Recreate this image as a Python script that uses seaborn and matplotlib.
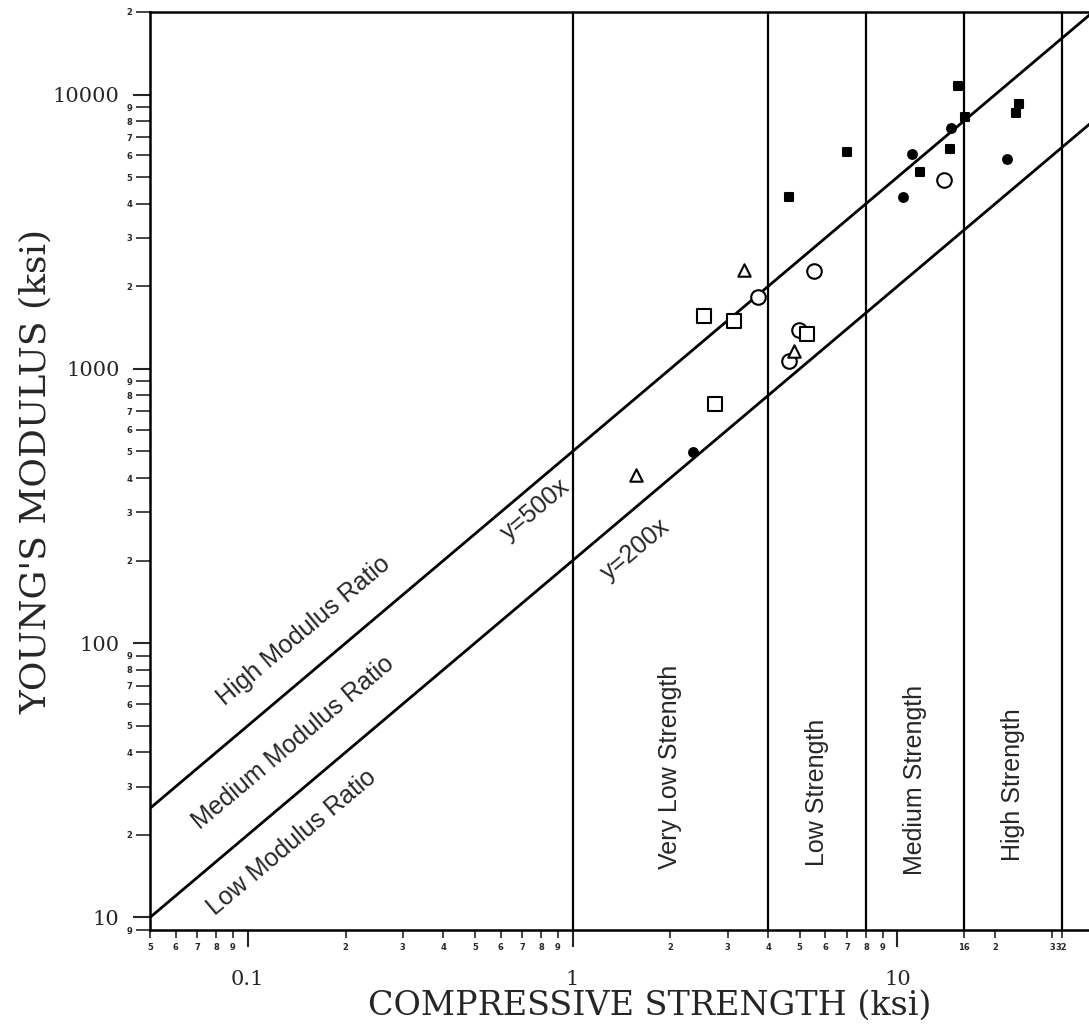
import numpy as np
import pandas as pd
import matplotlib
matplotlib.use("Agg")
import matplotlib.pyplot as plt
import seaborn as sns
from matplotlib.ticker import FixedLocator, FixedFormatter

sns.set_style("ticks")
plt.rcParams['font.family'] = ['DejaVu Serif']

# strength class boundaries (ksi) and names
class_bounds = [1, 4, 8, 16, 32]
class_names = ["Very Low Strength", "Low Strength", "Medium Strength", "High Strength"]

# modulus ratio lines  y = ratio * x
ratios = [500, 200]
ratio_x = [0.05, 40]

# measured points (compressive strength ksi, Young's modulus ksi)
filled_sq_x = [7.0, 4.62, 15.4, 16.1, 14.5, 11.7, 23.6, 23.2]
filled_sq_y = [6150, 4240, 10770, 8280, 6350, 5210, 9210, 8550]

filled_ci_x = [14.6, 11.1, 10.4, 21.8, 2.34]
filled_ci_y = [7550, 6090, 4240, 5800, 498]

open_ci_x = [5.55, 3.71, 4.96, 4.62, 13.95]
open_ci_y = [2280, 1827, 1390, 1066, 4880]

open_sq_x = [2.53, 3.13, 2.75, 5.25]
open_sq_y = [1560, 1500, 743, 1335]

open_tri_x = [3.38, 4.79, 1.57]
open_tri_y = [2300, 1160, 410]

fig = plt.figure(figsize=(10.89, 10.35), dpi=100)
ax = fig.add_axes([150 / 1089, 105 / 1035, (1093 - 150) / 1089, (930 - 12) / 1035])

# ratio lines
for r in ratios:
    df_line = pd.DataFrame({"x": ratio_x, "y": [r * v for v in ratio_x]})
    sns.lineplot(data=df_line, x="x", y="y", color="black", lw=2, ax=ax)

# strength class boundaries
for b in class_bounds:
    ax.axvline(b, color="black", lw=1.6)

# points
groups = [
    (filled_sq_x, filled_sq_y, "s", "black", 40),
    (filled_ci_x, filled_ci_y, "o", "black", 40),
    (open_ci_x, open_ci_y, "o", "white", 110),
    (open_sq_x, open_sq_y, "s", "white", 90),
    (open_tri_x, open_tri_y, "^", "white", 80),
]
for gx, gy, mk, fc, sz in groups:
    df_pts = pd.DataFrame({"x": gx, "y": gy})
    sns.scatterplot(data=df_pts, x="x", y="y", marker=mk, s=sz, color=fc,
                    edgecolor="black", linewidth=1.5, ax=ax, zorder=5)

ax.set_xscale("log")
ax.set_yscale("log")
ax.set_xlim(0.05, 40)
ax.set_ylim(9, 20000)

# ticks
ax.xaxis.set_major_locator(FixedLocator([0.1, 1, 10]))
ax.xaxis.set_major_formatter(FixedFormatter(["0.1", "1", "10"]))
x_minor = [0.05, 0.06, 0.07, 0.08, 0.09, 0.2, 0.3, 0.4, 0.5, 0.6, 0.7, 0.8, 0.9,
           2, 3, 4, 5, 6, 7, 8, 9, 16, 20, 30, 32, 40]
x_minor_lab = ["5", "6", "7", "8", "9", "2", "3", "4", "5", "6", "7", "8", "9",
               "2", "3", "4", "5", "6", "7", "8", "9", "16", "2", "3", "32", "4"]
ax.xaxis.set_minor_locator(FixedLocator(x_minor))
ax.xaxis.set_minor_formatter(FixedFormatter(x_minor_lab))

ax.yaxis.set_major_locator(FixedLocator([10, 100, 1000, 10000]))
ax.yaxis.set_major_formatter(FixedFormatter(["10", "100", "1000", "10000"]))
y_minor = [9] + [k * 10 for k in range(2, 10)] + [k * 100 for k in range(2, 10)] + \
          [k * 1000 for k in range(2, 10)] + [20000]
y_minor_lab = ["9"] + [str(k) for k in range(2, 10)] * 3 + ["2"]
ax.yaxis.set_minor_locator(FixedLocator(y_minor))
ax.yaxis.set_minor_formatter(FixedFormatter(y_minor_lab))

ax.tick_params(which="major", length=12, width=1.5, labelsize=15)
ax.tick_params(axis="x", which="major", pad=17)
ax.tick_params(axis="y", which="major", pad=10)
ax.tick_params(axis="x", which="minor", length=6, width=1.2, labelsize=6, pad=3)
ax.tick_params(axis="y", which="minor", length=10, width=1.2, labelsize=6, pad=3)
for lab in ax.get_xminorticklabels() + ax.get_yminorticklabels():
    lab.set_fontweight("bold")
    lab.set_family("DejaVu Sans")

for side in ["top", "left", "bottom"]:
    ax.spines[side].set_linewidth(1.8)
    ax.spines[side].set_color("black")
ax.spines["right"].set_visible(False)

ax.set_xlabel("COMPRESSIVE STRENGTH (ksi)", fontsize=24)
ax.set_ylabel("YOUNG'S MODULUS (ksi)", fontsize=26)
ax.xaxis.set_label_coords(0.53, -0.065)
ax.yaxis.set_label_coords(-0.103, 0.5)

# ratio labels
rot = 40
ann = dict(rotation=rot, rotation_mode="anchor", fontsize=18, family="Liberation Sans")
ax.text(0.082, 500 * 0.082 * 1.5, "High Modulus Ratio", ha="left", va="center", **ann)
ax.text(0.069, 200 * 0.069 * 1.58, "Medium Modulus Ratio", ha="left", va="center", **ann)
ax.text(0.077, 200 * 0.077 / 1.45, "Low Modulus Ratio", ha="left", va="center", **ann)
ax.text(0.77, 500 * 0.77 / 1.25, "y=500x", ha="center", va="center", **ann)
ax.text(1.56, 200 * 1.56 / 1.42, "y=200x", ha="center", va="center", **ann)

# strength class labels
label_y = [35.5, 28.6, 31.8, 30.4]
for lo, hi, name, ly in zip(class_bounds[:-1], class_bounds[1:], class_names, label_y):
    ax.text(np.sqrt(lo * hi), ly, name, rotation=90, ha="center", va="center",
            fontsize=18, family="Liberation Sans")

fig.savefig("out.png", dpi=100)
